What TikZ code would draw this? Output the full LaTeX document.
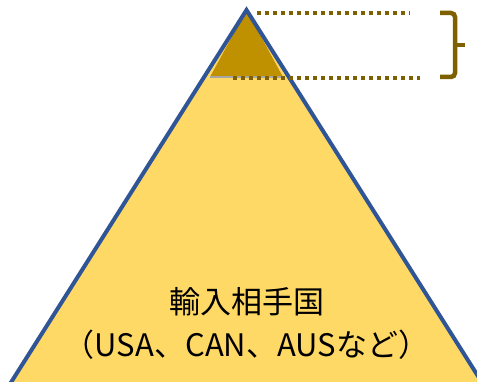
\documentclass[tikz,border=0pt]{standalone}
\usepackage{fontspec}
\newfontfamily\cjk{Noto Sans CJK JP}
\definecolor{bigfill}{HTML}{FFD966}
\definecolor{smallfill}{HTML}{BF9000}
\definecolor{outline}{HTML}{2F5597}
\definecolor{olive}{HTML}{7F6000}
\tikzset{
  dotline/.style={olive, line width=4pt, dash pattern=on 4pt off 4pt},
  bracestyle/.style={olive, line width=4.5pt, rounded corners=4pt},
  lbl/.style={font=\cjk\fontsize{31}{36}\selectfont, align=center, text=black}
}
\begin{document}
\begin{tikzpicture}[x=1pt,y=-1pt]
\useasboundingbox (0,0) rectangle (477,382);
\coordinate (apex) at (246.5,10);
\coordinate (bl) at (10,384);
\coordinate (br) at (483,384);
\coordinate (sl) at (210,77);
\coordinate (sr) at (283,77);
% big triangle
\fill[bigfill] (apex) -- (bl) -- (br) -- cycle;
% small triangle
\fill[smallfill] (apex) -- (sl) -- (sr) -- cycle;
\draw[gray!70, line width=2pt] (sl) -- (sr);
\draw[outline, line width=4pt, line join=miter] (bl) -- (apex) -- (br);
% dotted lines
\coordinate (d1a) at (257,13);
\coordinate (d1b) at (410,13);
\coordinate (d2a) at (233,78);
\coordinate (d2b) at (420,78);
\draw[dotline] (d1a) -- (d1b);
\draw[dotline] (d2a) -- (d2b);
% brace
\coordinate (b1) at (440,13);
\coordinate (b2) at (455,13);
\coordinate (bm) at (455,45);
\coordinate (bt) at (465,45);
\coordinate (b3) at (455,77);
\coordinate (b4) at (440,77);
\draw[bracestyle] (b1) -- (b2) -- (bm) -- (b3) -- (b4);
\draw[olive, line width=4.5pt] (bm) -- (bt);
% labels
\node[lbl] (t1) at (246.5,302) {輸入相手国};
\node[lbl] (t2) at (246.5,345) {（USA、CAN、AUSなど）};
\end{tikzpicture}
\end{document}
